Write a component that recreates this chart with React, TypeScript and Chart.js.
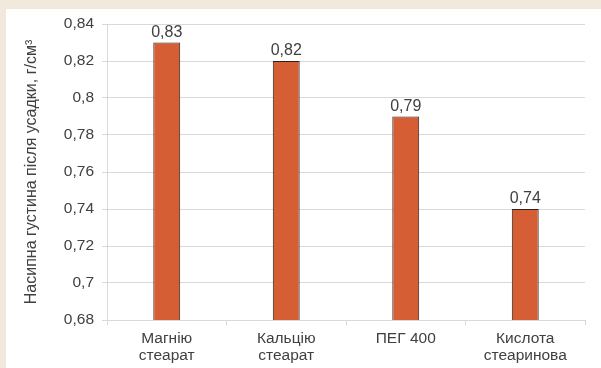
import React, { useEffect, useRef } from "react";
import { Chart, registerables } from "chart.js";

Chart.register(...registerables);

// Bulk density after shrinkage for each lubricant
const categories: (string | string[])[] = [
  ["Магнію", "стеарат"],
  ["Кальцію", "стеарат"],
  "ПЕГ 400",
  ["Кислота", "стеаринова"],
];
const densityValues: number[] = [0.83, 0.82, 0.79, 0.74];
const yAxisTitle = "Насипна густина після усадки, г/см³";
const yMin = 0.68;
const yMax = 0.84;
const yStep = 0.02;

const fmt = (v: number) => String(Math.round(v * 100) / 100).replace(".", ",");

const FONT = "'Liberation Sans', Arial, sans-serif";

const valueLabels = {
  id: "valueLabels",
  afterDatasetsDraw(chart: any) {
    const ctx = chart.ctx;
    const meta = chart.getDatasetMeta(0);
    ctx.save();
    ctx.font = `16px ${FONT}`;
    ctx.fillStyle = "#404040";
    ctx.textAlign = "center";
    ctx.textBaseline = "bottom";
    meta.data.forEach((bar: any, i: number) => {
      ctx.fillText(fmt(densityValues[i]), bar.x, bar.y - 2);
    });
    ctx.restore();
  },
};

export default function App() {
  const canvasRef = useRef<HTMLCanvasElement | null>(null);

  useEffect(() => {
    if (!canvasRef.current) return;
    const chart = new Chart(canvasRef.current, {
      type: "bar",
      data: {
        labels: categories,
        datasets: [
          {
            data: densityValues,
            backgroundColor: "#d55e34",
            borderColor: "#2e211a",
            borderWidth: 1,
            barPercentage: 0.9,
            categoryPercentage: 0.25,
          },
        ],
      },
      options: {
        animation: false,
        responsive: false,
        maintainAspectRatio: false,
        layout: { padding: { top: 15, right: 16, bottom: 0, left: 0 } },
        plugins: {
          legend: { display: false },
          tooltip: { enabled: false },
        },
        scales: {
          x: {
            grid: {
              offset: true,
              drawOnChartArea: false,
              color: "#d9d9d9",
              tickLength: 5,
            },
            border: { color: "#d9d9d9" },
            ticks: {
              color: "#404040",
              font: { family: FONT, size: 15.5, lineHeight: 1.12 },
              padding: 5,
              maxRotation: 0,
              autoSkip: false,
            },
            afterFit: (scale: any) => {
              scale.height = 48;
              scale.paddingLeft = 0;
              scale.paddingRight = 0;
            },
          },
          y: {
            min: yMin,
            max: yMax,
            grid: { color: "#d9d9d9", tickLength: 5 },
            border: { color: "#d9d9d9" },
            ticks: {
              stepSize: yStep,
              color: "#404040",
              font: { family: FONT, size: 15.5 },
              padding: 8,
              callback: (v: any) => fmt(Number(v)),
            },
            title: {
              display: true,
              text: yAxisTitle,
              color: "#404040",
              font: { family: FONT, size: 16 },
              padding: { top: 16, bottom: 0 },
            },
            afterFit: (scale: any) => {
              scale.width = 101;
              scale.paddingTop = 0;
              scale.paddingBottom = 0;
            },
          },
        },
      },
      plugins: [valueLabels],
    });
    return () => chart.destroy();
  }, []);

  return (
    <div
      style={{
        position: "fixed",
        left: 0,
        top: 0,
        width: 601,
        height: 368,
        background: "#f0e9dc",
        overflow: "hidden",
      }}
    >
      <div
        style={{
          position: "absolute",
          left: 6,
          top: 9,
          width: 595,
          height: 359,
          background: "#ffffff",
        }}
      >
        <canvas ref={canvasRef} width={595} height={359} style={{ display: "block" }} />
      </div>
    </div>
  );
}
